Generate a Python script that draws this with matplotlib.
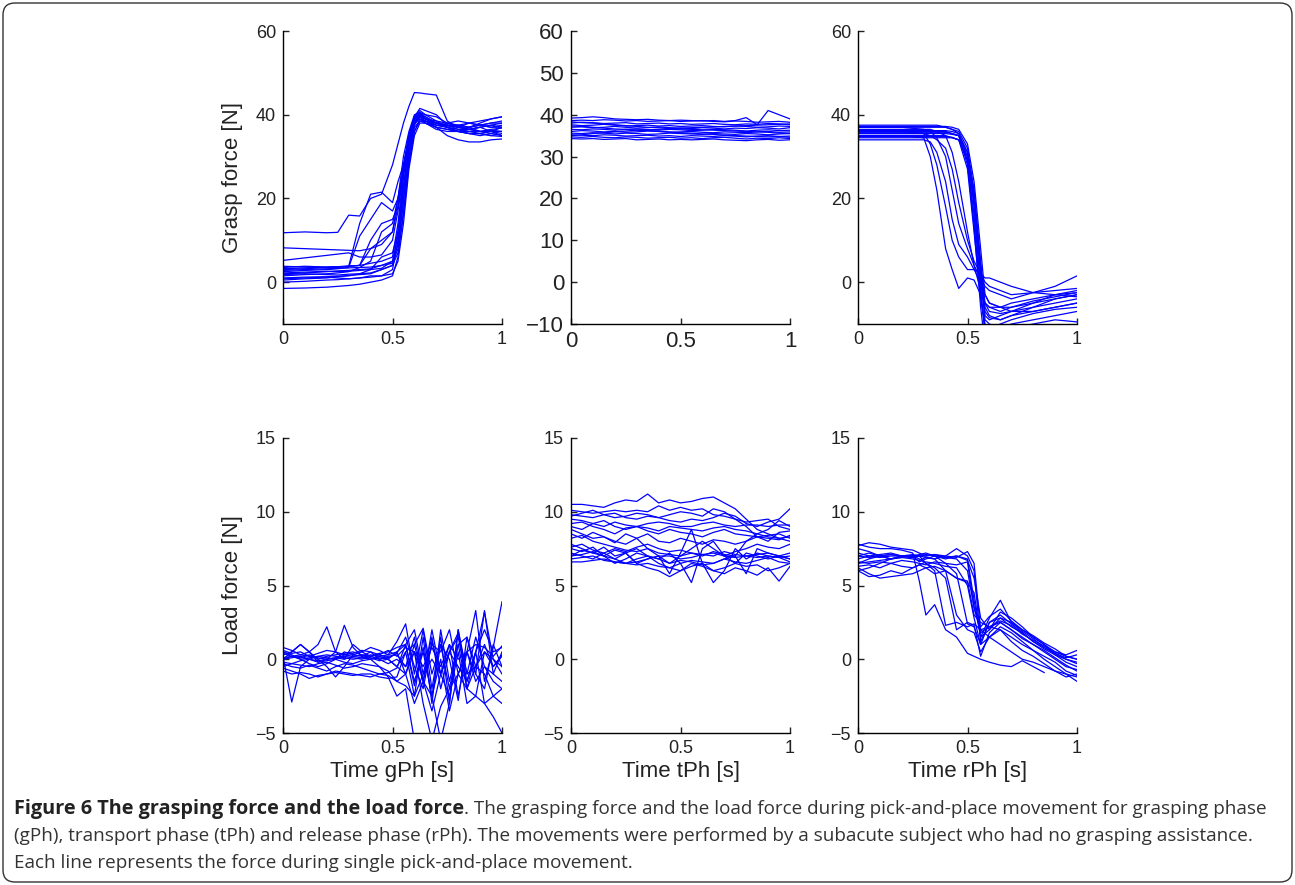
import numpy as np
import matplotlib.pyplot as plt
from matplotlib.patches import FancyBboxPatch
from matplotlib.transforms import IdentityTransform

nan = np.nan

#------------------------ dane ------------------------
# grasp force, grasping phase
gph_grasp_t = [0, 0.1, 0.2, 0.25, 0.3, 0.35, 0.4, 0.45, 0.5, 0.525, 0.55, 0.575,
               0.6, 0.625, 0.65, 0.7, 0.75, 0.8, 0.85, 0.9, 0.95, 1.0]
gph_grasp = [
    [11.8, 12, 11.8, 11.9, 16, 15.8, 20, 21, 28, 33, 38, 42, 45.3, 45.2, 45, 44.7, 38.5, 37, 36.5, 36, 36.3, 36],
    [8.2, 8, 7.8, 7.7, 7.6, 7.5, 8, 9, 12, 18, 27, 35, 39.5, 40, 39, 38, 37.5, 37, 38, 37.5, 37, 37.5],
    [5.2, 5.8, 6.4, 6.7, 7, 6, 6, 6.5, 10, 17, 26, 34, 39, 40.5, 39, 37.5, 37, 36, 36.5, 37, 37.5, 37],
    [3.5, 3.8, 3.6, 3.7, 3.8, 14, 21, 21.5, 19, 24, 28, 34, 39.5, 41, 40, 38.5, 37, 36, 35.5, 35.5, 36, 35],
    [2.5, 2.8, 3, 3.2, 3.5, 11, 15, 19, 17, 20, 26, 33, 38.5, 39.5, 38.5, 37.5, 37.5, 36.5, 36.5, 37, 36, 36],
    [3, 3.2, 3.5, 3.5, 3.8, 4, 10, 14, 15, 18, 27, 35, 39, 40, 38, 37, 36.5, 36, 37, 37.5, 38, 38],
    [1.5, 1.8, 2, 2.2, 2.5, 3.5, 5, 12, 14, 20, 28, 35, 39, 40.5, 40, 39.5, 38, 37.5, 37, 38, 39, 39.5],
    [0.5, 0.8, 1, 1.3, 1.5, 2, 3, 6, 7, 12, 22, 32, 38, 39.5, 39, 38, 37, 37.5, 37, 36, 36, 37],
    [2, 2.2, 2.5, 2.7, 2.8, 3, 3.2, 4, 5, 9, 20, 31, 37.5, 39.5, 39, 38.5, 38, 37, 36.5, 36, 35.5, 35],
    [-1.5, -1.4, -1.2, -1, -0.8, -0.5, 0, 0.5, 1.5, 6, 17, 29, 36, 39, 38.5, 37, 35, 34, 33.5, 33.5, 34, 34.2],
    [0, 0.2, 0.5, 0.6, 0.8, 1, 1.5, 1.5, 3, 10, 22, 33, 38.5, 40, 39.5, 38, 37.5, 37.5, 38, 38.5, 39, 39.5],
    [1, 1.2, 1.3, 1.4, 1.6, 1.8, 2, 3, 4, 12, 25, 34, 38, 39, 38, 37, 36.5, 36, 35.5, 35, 35.5, 36],
    [3.8, 3.6, 3.5, 3.6, 3.8, 4, 4.5, 5, 6, 14, 26, 35, 39.5, 41.5, 41, 40, 37.5, 37, 37, 37.5, 38, 38.5],
    [2.8, 3, 3.2, 3.3, 3.4, 3.5, 3.6, 4, 4.5, 8, 19, 30, 37, 38.5, 38, 36.5, 36, 36, 35.5, 35.5, 35, 35.5],
    [1.8, 2, 1.8, 1.7, 1.9, 2, 2.2, 3, 4, 7, 16, 28, 36, 38.5, 38.5, 38, 37.5, 37, 36.5, 37, 37.5, 38],
    [0.8, 1, 1.2, 1, 0.8, 1, 1.2, 1.5, 2, 5, 14, 27, 35, 38, 38, 37.5, 37, 36.5, 36, 36, 36.5, 36.8],
    [3.2, 3.4, 3.6, 3.7, 3.8, 4, 8, 10, 12, 20, 30, 36, 40, 40.5, 39.5, 38, 37, 36, 36, 35.5, 35, 34.8],
    [2.2, 2.4, 2.6, 2.5, 2.6, 2.8, 3, 3.3, 5, 11, 23, 33, 38, 39.5, 39, 38, 38, 38.5, 38, 37.5, 37, 37],
]

# grasp force, transport phase
tph_grasp_t = [0, 0.05, 0.1, 0.15, 0.2, 0.25, 0.3, 0.35, 0.4, 0.45, 0.5,
               0.55, 0.6, 0.65, 0.7, 0.75, 0.8, 0.85, 0.9, 0.95, 1.0]
tph_grasp = [
    [39.2, 39.3, 39.5, 39.3, 39.0, 38.9, 38.8, 38.9, 38.7, 38.6, 38.7, 38.6, 38.5, 38.6, 38.4, 38.6, 39.3, 37.6, 41.0, 40.0, 39.0],
    [38.6, 38.7, 38.6, 38.8, 38.7, 38.5, 38.6, 38.4, 38.5, 38.6, 38.4, 38.5, 38.6, 38.4, 38.3, 38.5, 38.4, 38.2, 38.3, 38.4, 38.2],
    [38.0, 38.2, 38.1, 37.9, 38.0, 38.1, 37.8, 37.9, 38.0, 37.8, 37.9, 37.7, 37.8, 37.9, 37.7, 37.6, 37.8, 37.7, 37.9, 37.8, 37.6],
    [37.6, 37.4, 37.5, 37.7, 37.5, 37.3, 37.4, 37.5, 37.3, 37.4, 37.2, 37.3, 37.4, 37.2, 37.1, 37.3, 37.2, 37.0, 37.1, 37.3, 37.2],
    [37.0, 37.1, 36.9, 37.0, 37.2, 37.0, 36.8, 36.9, 37.1, 36.9, 36.8, 36.7, 36.9, 36.8, 36.6, 36.8, 36.7, 36.9, 36.8, 36.6, 36.9],
    [36.5, 36.4, 36.6, 36.5, 36.3, 36.5, 36.6, 36.4, 36.3, 36.5, 36.4, 36.2, 36.3, 36.5, 36.4, 36.3, 36.1, 36.3, 36.4, 36.2, 36.3],
    [36.0, 36.2, 36.1, 35.9, 36.0, 35.8, 35.9, 36.1, 36.0, 35.8, 35.9, 36.0, 35.8, 35.7, 35.9, 35.8, 35.7, 35.9, 36.0, 35.8, 35.9],
    [35.6, 35.5, 35.7, 35.6, 35.4, 35.6, 35.5, 35.3, 35.4, 35.6, 35.5, 35.4, 35.3, 35.5, 35.4, 35.3, 35.5, 35.4, 35.2, 35.4, 35.5],
    [35.2, 35.1, 35.0, 35.2, 35.1, 34.9, 35.0, 35.1, 34.9, 35.0, 34.8, 35.0, 34.9, 34.8, 35.0, 34.9, 34.7, 34.9, 35.0, 34.8, 34.9],
    [34.7, 34.6, 34.8, 34.6, 34.5, 34.7, 34.6, 34.4, 34.5, 34.6, 34.4, 34.5, 34.3, 34.5, 34.6, 34.4, 34.2, 34.4, 34.3, 34.5, 34.3],
    [34.3, 34.2, 34.3, 34.1, 34.2, 34.3, 34.0, 34.1, 34.2, 34.0, 34.1, 34.0, 34.1, 34.2, 34.0, 33.9, 33.8, 34.0, 34.1, 33.9, 34.0],
    [37.3, 37.2, 37.0, 36.8, 36.6, 36.5, 36.3, 36.2, 36.0, 35.9, 35.7, 35.6, 35.4, 35.3, 35.1, 35.0, 34.9, 34.8, 34.7, 34.8, 34.6],
    [35.0, 35.2, 35.5, 35.7, 35.9, 36.1, 36.3, 36.4, 36.5, 36.7, 36.8, 36.9, 37.0, 37.1, 37.2, 37.3, 37.4, 37.5, 37.6, 37.7, 37.8],
    [38.3, 38.1, 38.0, 37.8, 37.6, 37.4, 37.2, 37.0, 36.9, 36.7, 36.6, 36.5, 36.4, 36.3, 36.2, 36.1, 36.0, 35.9, 35.8, 35.6, 35.5],
]

# grasp force, release phase
rph_grasp_t = [0, 0.1, 0.2, 0.3, 0.33, 0.36, 0.4, 0.43, 0.46, 0.5, 0.53,
               0.56, 0.58, 0.6, 0.65, 0.7, 0.8, 0.9, 1.0]
rph_grasp = [
    [35, 35, 35, 34.5, 30, 22, 8, 3, -1.5, 1, 0.5, -3, -5, -6, -6, -5, -4, -3, -2],
    [36, 36, 36, 35.5, 33, 28, 18, 10, 6, 3, 3, 2, 0, -1, -2, -3, -2.5, -1, 1.5],
    [34, 34, 34, 34, 33.5, 31, 24, 15, 9, 6, 3, 0, -3, -5, -6, -7, -7, -6, -5],
    [37, 37, 37, 36.5, 36, 34.5, 30, 22, 14, 8, 4, 1, -1, -2, -3, -4, -2.5, -2, -1.5],
    [35.5, 35.5, 35.5, 35.5, 35, 34, 32, 27, 19, 10, 5, 2, 1, 1, 0, -1, -2.5, -3, -3.5],
    [36.5, 36.5, 36.5, 36.5, 36.5, 36, 35, 31, 24, 12, 4, -2, -5, -6, -7, -6, -5, -4, -3],
    [37.5, 37.5, 37.5, 37.5, 37.5, 37.5, 37, 36.5, 35.5, 30, 18, 2, -6, -8, -9, -8, -7, -6, -5],
    [36, 36, 36, 36, 36, 36, 36, 35.5, 35, 28, 14, -3, -12, -14, -14, -13, -12, -11, -10.5],
    [35, 35, 35, 35, 35, 35, 35, 34.5, 34, 29, 16, 0, -8, -9, -8, -7, -5, -3, -2.5],
    [37, 37, 37, 37, 37, 37, 37, 36.5, 36, 32, 22, 5, -5, -7, -7.5, -7, -6, -4, -3],
    [34.5, 34.5, 34.5, 34.5, 34.5, 34.5, 34.5, 34.5, 34, 30, 20, 3, -9, -10, -11, -10, -9, -8, -7],
    [36.2, 36.2, 36.2, 36.2, 36.2, 36.2, 36.2, 36, 35.5, 31, 19, -2, -11, -12, -12, -11, -10, -9, -9.5],
    [35.8, 35.8, 35.8, 35.8, 35.8, 35.8, 35.8, 35.5, 35, 29, 13, -6, -15, -15, -15, -14, -13, -12, -12],
    [37.2, 37.2, 37.2, 37.2, 37.2, 37.2, 37.2, 37, 36.5, 33, 24, 8, -3, -5, -6, -6, -4.5, -3.5, -2.5],
    [34.8, 34.8, 34.8, 34.8, 34.8, 34.8, 34.8, 34.6, 34, 27, 12, -4, -10, -11, -10, -9, -7.5, -6.5, -6],
    [35.5, 35.5, 35.5, 35.5, 35.5, 35.5, 35.5, 35.3, 35, 31, 21, 4, -7, -8.5, -9, -8, -6, -5, -4],
]

# load force, grasping phase
gph_load_t = [0, 0.04, 0.08, 0.12, 0.16, 0.2, 0.24, 0.28, 0.32, 0.36, 0.4, 0.44, 0.48,
              0.52, 0.56, 0.6, 0.64, 0.68, 0.72, 0.76, 0.8, 0.84, 0.88, 0.92, 0.96, 1.0]
gph_load = [
    [0.8, 0.6, 0.3, 0.2, 0.1, 0.0, 0.1, 0.2, 0.1, 0.0, 0.2, 0.3, 0.1, 0.4, 1.5, -0.5, -2.0, 1.2, -1.0, 0.5, 1.5, -1.5, 0.5, 2.0, 0.5, 0.8],
    [-0.8, -1.0, -0.9, -1.0, -1.2, -1.0, -0.9, -1.0, -1.1, -1.0, -1.0, -1.2, -1.3, -1.2, 0.5, -2.5, 1.5, -3.0, 2.0, -1.5, 1.0, -2.0, -0.5, -1.0, -2.5, -3.0],
    [0.2, -2.9, -0.5, 0.0, 0.2, 0.1, 0.0, 0.3, 0.2, 0.1, 0.0, 0.2, 0.3, 0.5, 1.0, 2.0, -1.0, 1.5, -2.0, 0.5, 1.8, -1.0, -0.5, 0.5, 0.0, -0.5],
    [0.0, 0.2, 0.3, 0.5, 1.0, 2.2, 0.5, 0.0, 1.0, 0.5, 0.2, 0.0, 0.2, 0.3, -0.5, 1.5, -1.5, 2.0, -1.0, 1.0, -2.5, 0.5, -1.0, 3.3, -1.0, 0.5],
    [0.5, 0.3, 0.0, -0.3, -0.5, -0.3, 0.0, 0.5, 0.3, 0.2, 0.0, -0.5, -1.2, -2.5, -2.0, -5.5, -7.0, -7.5, -8.0, -8.0, -8.0, -8.0, -8.0, -8.0, -8.0, -8.0],
    [0.3, 0.5, 1.0, 0.5, 0.0, -0.5, -1.2, -0.5, 0.3, 0.5, 0.8, 0.6, 0.3, 1.2, 2.4, -1.0, 2.0, -2.0, 1.5, -3.0, 2.0, -2.0, 0.5, -3.0, -2.5, -2.0],
    [0.1, 0.2, 0.0, 0.1, 0.2, 0.3, 0.2, 0.1, 0.0, 0.1, 0.3, 0.2, 0.0, -0.5, 0.5, 1.0, 2.1, -1.0, 1.0, -2.0, 1.0, 1.5, -1.0, -2.0, 1.0, -0.5],
    [-0.2, -0.3, -0.1, 0.0, -0.2, -0.1, 0.0, -0.2, -0.3, -0.1, 0.0, 0.1, 0.0, -0.5, -1.0, -3.0, -1.5, -3.5, -1.0, -2.5, 0.5, -3.0, -2.5, -3.0, -3.9, -5.0],
    [0.0, 0.1, 0.2, 0.0, -0.1, 0.0, 0.1, 0.0, 0.2, 0.3, 0.1, -0.1, 0.0, 0.5, -1.0, 1.0, -1.5, 1.0, 0.5, 2.0, -1.0, 0.5, 3.3, -1.5, 0.8, 3.9],
    [0.4, 0.2, 0.1, 0.3, 0.0, 0.2, 0.3, 0.4, 0.5, 0.3, 0.2, 0.4, 0.5, 0.8, 1.0, -1.5, 0.5, -2.5, 0.0, -3.5, -1.0, -2.0, -2.5, 0.5, -0.5, 0.2],
    [-0.5, -0.3, -0.4, -0.5, -0.3, -0.2, -0.4, -0.6, -0.5, -0.3, -0.4, -0.5, -0.8, -1.5, -1.0, 0.5, -3.0, -5.5, -3.2, -2.0, -1.0, 0.5, -1.5, -0.5, -1.0, -1.5],
    [0.6, 0.4, 0.5, 0.2, 0.4, 0.6, 0.5, 0.3, 0.4, 0.6, 0.5, 0.3, 0.6, 0.2, 0.8, 0.5, -0.5, 0.8, -0.5, 1.0, 0.0, 0.5, 1.0, 0.8, 0.2, 0.9],
    [-0.3, -0.5, -0.6, -0.4, -0.6, -0.8, -0.5, -0.3, -0.4, -0.6, -0.8, -1.0, -1.1, -1.5, -1.8, -2.5, -1.0, 0.0, -1.0, 0.5, -0.5, -1.5, 0.5, 3.2, 0.0, -1.0],
    [0.0, 0.5, 1.0, 0.5, -0.2, 0.0, 0.5, 2.3, 0.8, 0.2, 0.5, 0.0, -0.3, 0.0, -0.5, 0.5, -1.5, -2.5, -5.5, -3.0, 2.0, -1.0, 1.5, -0.5, -1.5, -2.0],
    [-0.6, -0.8, -1.0, -1.3, -1.1, -1.0, -0.8, -0.9, -1.0, -1.1, -1.2, -1.0, -0.9, -0.6, 1.0, -1.8, 0.8, -2.5, 1.0, 0.0, -2.8, 1.5, -0.5, 1.0, -0.5, 0.3],
]

# load force, transport phase
tph_load_t = [0, 0.05, 0.1, 0.15, 0.2, 0.25, 0.3, 0.35, 0.4, 0.45, 0.5,
              0.55, 0.6, 0.65, 0.7, 0.75, 0.8, 0.85, 0.9, 0.95, 1.0]
tph_load = [
    [10.5, 10.5, 10.4, 10.3, 10.6, 10.8, 10.7, 11.2, 10.6, 10.8, 10.6, 10.7, 10.9, 11.0, 10.6, 10.2, 9.5, 8.8, 8.5, 8.2, 8.0],
    [10.1, 10.0, 9.9, 10.0, 10.1, 10.0, 10.1, 10.0, 10.4, 10.1, 10.3, 10.1, 10.2, 9.8, 9.7, 9.5, 9.3, 9.4, 9.5, 9.0, 8.8],
    [9.8, 9.7, 9.6, 9.8, 9.9, 9.6, 9.5, 9.7, 9.6, 9.4, 9.3, 9.5, 9.4, 9.6, 9.9, 9.7, 9.2, 9.0, 9.3, 9.5, 10.2],
    [9.5, 9.4, 9.2, 9.0, 9.3, 9.1, 9.0, 9.2, 9.3, 9.2, 9.0, 9.0, 9.2, 9.3, 9.1, 9.0, 9.1, 9.1, 9.0, 9.1, 9.1],
    [9.0, 8.8, 9.2, 9.4, 9.0, 8.8, 9.0, 8.9, 8.7, 9.0, 8.9, 8.8, 8.7, 8.9, 9.0, 8.8, 8.7, 8.5, 8.3, 8.2, 8.3],
    [8.8, 8.5, 8.2, 8.3, 8.0, 7.8, 8.2, 8.5, 8.0, 7.9, 8.2, 8.0, 7.8, 8.1, 8.0, 7.8, 8.0, 8.3, 8.4, 8.5, 8.2],
    [8.5, 8.2, 8.6, 8.3, 7.9, 8.5, 8.2, 7.5, 7.0, 6.5, 7.0, 7.5, 8.0, 7.5, 7.0, 7.3, 7.5, 7.8, 7.6, 7.5, 7.8],
    [7.8, 7.5, 7.2, 7.6, 7.0, 7.2, 7.5, 7.0, 6.8, 7.2, 6.5, 5.2, 7.5, 8.0, 7.0, 6.5, 7.2, 7.0, 6.8, 7.0, 6.8],
    [7.5, 7.3, 7.6, 7.0, 7.4, 7.2, 6.5, 6.8, 7.0, 5.8, 7.2, 8.8, 6.5, 5.2, 6.0, 7.5, 6.8, 7.2, 7.0, 6.9, 7.0],
    [7.2, 7.0, 6.8, 7.2, 6.8, 6.5, 6.8, 7.0, 6.5, 6.2, 6.0, 6.3, 6.5, 6.0, 5.8, 6.2, 6.0, 5.7, 6.2, 5.3, 6.3],
    [6.8, 6.9, 7.0, 6.7, 6.6, 6.5, 6.6, 6.8, 7.0, 7.0, 6.8, 6.9, 7.1, 7.2, 7.0, 6.9, 7.0, 7.1, 7.2, 7.0, 6.8],
    [6.6, 6.6, 6.7, 6.8, 6.6, 6.5, 6.4, 6.5, 6.3, 6.2, 6.5, 6.7, 6.6, 6.5, 6.8, 6.6, 6.5, 6.7, 6.9, 6.6, 6.5],
    [7.0, 7.4, 7.2, 7.0, 6.5, 6.8, 7.2, 7.0, 6.8, 6.5, 6.7, 6.6, 6.4, 6.5, 6.8, 7.0, 5.8, 7.5, 7.2, 7.0, 7.2],
    [7.6, 7.8, 7.4, 7.2, 7.5, 7.3, 7.6, 7.8, 7.5, 7.3, 7.4, 7.2, 7.0, 7.3, 7.1, 7.0, 8.0, 8.5, 8.8, 9.4, 9.0],
    [9.2, 9.3, 9.0, 8.8, 8.5, 8.9, 9.0, 8.7, 8.5, 8.8, 8.6, 8.5, 8.3, 8.6, 8.8, 8.5, 8.4, 8.3, 8.2, 8.1, 8.4],
    [8.2, 8.4, 8.0, 7.8, 7.6, 7.4, 7.3, 7.5, 7.2, 7.1, 7.0, 7.2, 7.1, 7.0, 7.3, 7.1, 7.0, 6.9, 7.0, 6.9, 6.6],
    [7.0, 7.1, 7.3, 7.0, 6.8, 7.2, 6.5, 6.2, 6.0, 5.6, 6.0, 6.5, 6.3, 6.0, 6.2, 6.5, 6.3, 6.4, 6.0, 6.2, 6.5],
    [9.7, 9.9, 10.1, 9.8, 9.6, 9.7, 9.9, 9.8, 9.6, 9.8, 10.0, 9.9, 9.7, 10.2, 10.0, 9.5, 9.0, 8.3, 8.0, 8.6, 8.7],
]

# load force, release phase
rph_load_t = [0, 0.05, 0.1, 0.15, 0.2, 0.25, 0.28, 0.31, 0.35, 0.4, 0.45, 0.5,
              0.53, 0.56, 0.6, 0.65, 0.7, 0.75, 0.8, 0.85, 0.9, 0.95, 1.0]
rph_load = [
    [7.8, 7.6, 7.5, 7.5, 7.4, 7.2, 5.3, 3.0, 3.7, 2.0, 1.5, 0.4, 0.2, 0.0, -0.2, -0.4, -0.5, -0.1, -0.5, -0.9, nan, nan, nan],
    [6.0, 6.2, 6.5, 6.8, 7.0, 7.0, 6.8, 6.5, 6.0, 2.3, 2.5, 2.2, 2.4, 2.0, 1.5, 1.0, 0.5, 0.0, -0.2, -0.5, -0.8, -1.2, -1.0],
    [6.5, 6.8, 7.0, 6.8, 7.0, 6.9, 7.0, 6.5, 6.2, 5.5, 2.0, 2.5, 2.3, 0.2, 1.8, 2.5, 2.0, 1.5, 1.0, 0.5, 0.0, -0.5, -0.7],
    [7.0, 7.2, 7.0, 7.1, 7.0, 6.9, 7.0, 7.1, 7.0, 6.5, 5.8, 2.4, 2.2, 1.0, 2.5, 2.8, 2.2, 1.8, 1.2, 0.8, 0.4, 0.0, -0.3],
    [6.8, 7.0, 6.9, 7.0, 7.0, 7.1, 7.0, 6.9, 6.8, 6.0, 5.5, 5.3, 3.0, 2.5, 2.2, 2.0, 1.5, 1.0, 0.6, 0.2, -0.2, -0.8, -1.1],
    [7.2, 7.0, 7.1, 7.2, 7.0, 7.0, 7.1, 7.2, 7.0, 6.8, 7.0, 6.8, 4.0, 1.5, 2.8, 4.0, 2.5, 2.0, 1.5, 1.0, 0.5, 0.2, 0.0],
    [6.5, 6.6, 6.7, 6.8, 6.9, 6.8, 6.7, 6.9, 6.8, 7.0, 7.5, 7.0, 6.0, 1.2, 2.5, 3.0, 2.4, 1.8, 1.2, 0.7, 0.3, -0.2, -0.5],
    [7.0, 6.9, 7.0, 7.1, 7.0, 6.9, 7.0, 7.0, 7.1, 7.0, 6.9, 7.3, 6.5, 2.0, 2.2, 2.6, 2.3, 1.7, 1.3, 0.9, 0.5, 0.3, 0.6],
    [6.2, 5.8, 5.5, 5.6, 5.7, 5.8, 6.0, 6.2, 6.3, 6.0, 5.5, 5.2, 4.5, 1.5, 2.0, 2.8, 2.5, 1.9, 1.4, 0.8, 0.4, 0.1, 0.3],
    [6.0, 5.6, 5.7, 6.0, 5.8, 6.2, 6.4, 6.2, 5.8, 6.0, 3.0, 2.0, 1.8, 0.5, 1.5, 2.0, 1.2, 0.6, 0.2, -0.3, -0.8, -1.0, -1.2],
    [7.5, 7.3, 7.0, 6.8, 6.9, 7.0, 6.6, 6.8, 7.0, 6.9, 7.0, 6.7, 5.5, 2.8, 2.0, 3.2, 2.8, 2.2, 1.5, 1.0, 0.3, 0.0, -0.2],
    [6.6, 6.5, 6.6, 6.5, 6.7, 6.6, 6.5, 6.4, 6.6, 6.5, 6.4, 6.6, 3.5, 1.8, 2.2, 2.5, 2.0, 1.4, 1.0, 0.6, 0.1, -0.4, -0.8],
    [7.7, 7.9, 7.8, 7.6, 7.5, 7.4, 7.2, 7.0, 7.1, 6.9, 6.8, 6.0, 3.5, 2.2, 2.9, 3.4, 2.6, 2.0, 1.6, 1.1, 0.7, 0.2, 0.0],
    [6.3, 6.4, 6.2, 6.5, 6.3, 6.2, 6.4, 6.6, 6.5, 6.3, 6.2, 5.0, 2.8, 1.0, 1.5, 2.2, 1.8, 1.2, 0.6, 0.0, -0.5, -1.0, -1.5],
]

top_yticks = [0, 20, 40, 60]
mid_yticks = [-10, 0, 10, 20, 30, 40, 50, 60]
load_yticks = [-5, 0, 5, 10, 15]
x_ticks = [0, 0.5, 1]
x_ticklabels = ['0', '0.5', '1']
x_labels = ['Time gPh [s]', 'Time tPh [s]', 'Time rPh [s]']

caption_bold = 'Figure 6 The grasping force and the load force'
caption_1 = ('. The grasping force and the load force during pick-and-place movement '
             'for grasping phase')
caption_2 = ('(gPh), transport phase (tPh) and release phase (rPh). The movements were '
             'performed by a subacute subject who had no grasping assistance.')
caption_3 = 'Each line represents the force during single pick-and-place movement.'

#------------------------ wykres ------------------------
W, H = 1295, 885
plt.rcParams['font.family'] = ['Liberation Sans', 'DejaVu Sans']
fig = plt.figure(figsize=(W / 100, H / 100), dpi=100)

lefts = [283, 571, 858]
ax_w = 219
rows = [(31, 324), (438, 733)]

def make_ax(col, row):
    top, bot = rows[row]
    return fig.add_axes([lefts[col] / W, 1 - bot / H, ax_w / W, (bot - top) / H])

def styl(ax, fs):
    for s in ['top', 'right']:
        ax.spines[s].set_visible(False)
    for s in ['left', 'bottom']:
        ax.spines[s].set_linewidth(1.0)
    ax.tick_params(direction='in', length=4, width=1.0, labelsize=fs,
                   colors='#222222', pad=5)
    ax.set_xlim(0, 1)
    ax.set_xticks(x_ticks)
    ax.set_xticklabels(x_ticklabels)

panels = [
    (0, 0, gph_grasp_t, gph_grasp, (-10, 60), top_yticks, 13),
    (1, 0, tph_grasp_t, tph_grasp, (-10, 60), mid_yticks, 16),
    (2, 0, rph_grasp_t, rph_grasp, (-10, 60), top_yticks, 13),
    (0, 1, gph_load_t, gph_load, (-5, 15), load_yticks, 13),
    (1, 1, tph_load_t, tph_load, (-5, 15), load_yticks, 13),
    (2, 1, rph_load_t, rph_load, (-5, 15), load_yticks, 13),
]

for col, row, t, lines, ylim, yt, fs in panels:
    ax = make_ax(col, row)
    for y in lines:
        ax.plot(t, y, color='#0000ff', lw=0.9)
    ax.set_ylim(*ylim)
    ax.set_yticks(yt)
    styl(ax, fs)
    if col == 0:
        ax.set_ylabel('Grasp force [N]' if row == 0 else 'Load force [N]',
                      fontsize=16, labelpad=9, color='#222222')
    if row == 1:
        ax.set_xlabel(x_labels[col], fontsize=16, labelpad=3, color='#222222')

# ramka
ramka = FancyBboxPatch((3, 3), W - 6, H - 6, boxstyle='round,pad=0,rounding_size=12',
                       transform=IdentityTransform(), fill=False,
                       ec='#333333', lw=1.0)
fig.patches.append(ramka)

# podpis
cap_font = ['Open Sans', 'DejaVu Sans']
x0 = 14 / W
tb = fig.text(x0, 1 - 814 / H, caption_bold, fontsize=14.3, fontweight='bold',
              family=cap_font, color='#222222', va='baseline')
fig.canvas.draw()
bb = tb.get_window_extent(fig.canvas.get_renderer())
fig.text(bb.x1 / W, 1 - 814 / H, caption_1, fontsize=13.6, family=cap_font,
         color='#333333', va='baseline')
fig.text(x0, 1 - 841 / H, caption_2, fontsize=13.6, family=cap_font,
         color='#333333', va='baseline')
fig.text(x0, 1 - 868 / H, caption_3, fontsize=13.6, family=cap_font,
         color='#333333', va='baseline')

fig.savefig('out.png', dpi=100)
